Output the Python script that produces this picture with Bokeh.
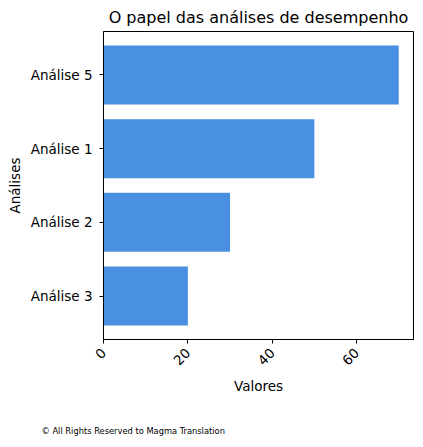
import math
from bokeh.plotting import figure
from bokeh.models import Range1d, FixedTicker, Title, ColumnDataSource
from bokeh.embed import file_html
from bokeh.resources import INLINE

categories = ["Análise 3", "Análise 2", "Análise 1", "Análise 5"]
values = [20, 30, 50, 70]
x_ticks = [0, 20, 40, 60]
title_text = "O papel das análises de desempenho"
footer_text = "© All Rights Reserved to Magma Translation"

FONT = "DejaVu Sans"
ypos = list(range(len(categories)))
src = ColumnDataSource(dict(y=ypos, v=values, cat=categories))

p = figure(frame_width=310, frame_height=308, output_backend="svg", toolbar_location=None,
           x_range=Range1d(0, 73.5), y_range=Range1d(-0.59, 3.59),
           min_border_left=103, min_border_right=2, min_border_top=24, min_border_bottom=99)

p.hbar(y="y", right="v", left=0, height=0.8, source=src, color="#4a90e2", line_color=None)

p.title.text = title_text
p.title.text_font = FONT
p.title.text_font_size = "16px"
p.title.text_font_style = "normal"
p.title.align = "center"
p.title.text_color = "black"

p.xgrid.visible = False
p.ygrid.visible = False
p.outline_line_color = "black"
p.outline_line_width = 1
p.background_fill_color = "white"
p.border_fill_color = "white"

xa = p.xaxis[0]
xa.ticker = FixedTicker(ticks=x_ticks)
xa.axis_label = "Valores"
xa.major_label_orientation = math.pi / 4
xa.major_label_standoff = 7
xa.minor_tick_line_color = None

ya = p.yaxis[0]
ya.ticker = FixedTicker(ticks=ypos)
ya.major_label_overrides = {i: c for i, c in enumerate(categories)}
ya.axis_label = "Análises"
ya.major_label_standoff = 7
ya.minor_tick_line_color = None

for ax in (xa, ya):
    ax.axis_label_text_font = FONT
    ax.axis_label_text_font_size = "13.5px"
    ax.axis_label_text_font_style = "normal"
    ax.axis_label_text_color = "black"
    ax.major_label_text_font = FONT
    ax.major_label_text_font_size = "13.5px"
    ax.major_label_text_color = "black"
    ax.axis_line_color = "black"
    ax.major_tick_line_color = "black"
    ax.major_tick_out = 4
    ax.major_tick_in = 0

footer = Title(text=footer_text, align="left", offset=-62, standoff=54,
               text_font=FONT, text_font_size="8.3px", text_font_style="normal",
               text_color="black")
p.add_layout(footer, "below")

open("out.html", "w").write(file_html(p, INLINE))
